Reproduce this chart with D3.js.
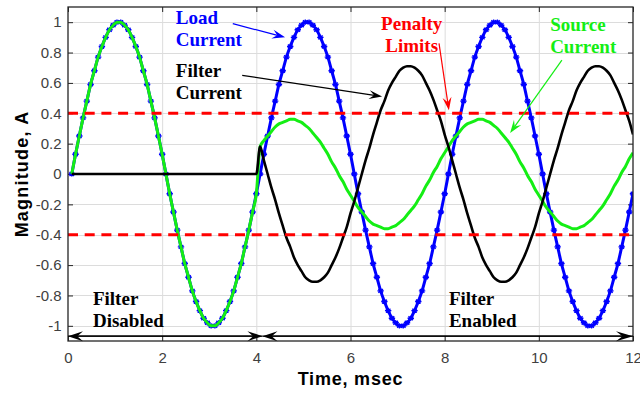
<!DOCTYPE html>
<html>
<head>
<meta charset="utf-8">
<script src="https://cdn.jsdelivr.net/npm/d3@7"></script>
<style>
  html, body { margin: 0; padding: 0; background: #fff; }
  svg { display: block; }
</style>
</head>
<body>
<script>
// Sampled waveforms, one sample every 0.08 ms from 0.08 ms to 12.00 ms.
const sampleStepMs = 0.08;

const loadCurrent = [
  0, 0.13, 0.25, 0.37, 0.48, 0.59, 0.68, 0.77, 0.84, 0.90, 0.95, 0.98, 1.00, 1.00, 0.98, 0.95, 0.90, 0.84, 0.77, 0.68, 0.59, 0.48, 0.37, 0.25, 0.13,
  0, -0.13, -0.25, -0.37, -0.48, -0.59, -0.68, -0.77, -0.84, -0.90, -0.95, -0.98, -1.00, -1.00, -0.98, -0.95, -0.90, -0.84, -0.77, -0.68, -0.59, -0.48, -0.37, -0.25, -0.13,
  0, 0.13, 0.25, 0.37, 0.48, 0.59, 0.68, 0.77, 0.84, 0.90, 0.95, 0.98, 1.00, 1.00, 0.98, 0.95, 0.90, 0.84, 0.77, 0.68, 0.59, 0.48, 0.37, 0.25, 0.13,
  0, -0.13, -0.25, -0.37, -0.48, -0.59, -0.68, -0.77, -0.84, -0.90, -0.95, -0.98, -1.00, -1.00, -0.98, -0.95, -0.90, -0.84, -0.77, -0.68, -0.59, -0.48, -0.37, -0.25, -0.13,
  0, 0.13, 0.25, 0.37, 0.48, 0.59, 0.68, 0.77, 0.84, 0.90, 0.95, 0.98, 1.00, 1.00, 0.98, 0.95, 0.90, 0.84, 0.77, 0.68, 0.59, 0.48, 0.37, 0.25, 0.13,
  0, -0.13, -0.25, -0.37, -0.48, -0.59, -0.68, -0.77, -0.84, -0.90, -0.95, -0.98, -1.00, -1.00, -0.98, -0.95, -0.90, -0.84, -0.77, -0.68, -0.59, -0.48, -0.37, -0.25, -0.13
];

const sourceCurrent = [
  0, 0.13, 0.25, 0.37, 0.48, 0.59, 0.68, 0.77, 0.84, 0.90, 0.95, 0.98, 1.00, 1.00, 0.98, 0.95, 0.90, 0.84, 0.77, 0.68, 0.59, 0.48, 0.37, 0.25, 0.13,
  0, -0.13, -0.25, -0.37, -0.48, -0.59, -0.68, -0.77, -0.84, -0.90, -0.95, -0.98, -1.00, -1.00, -0.98, -0.95, -0.90, -0.84, -0.77, -0.68, -0.59, -0.48, -0.37, -0.25, -0.13,
  0.18, 0.22, 0.25, 0.28, 0.31, 0.33, 0.34, 0.35, 0.36, 0.36, 0.35, 0.34, 0.32, 0.30, 0.27, 0.24, 0.21, 0.17, 0.13, 0.08, 0.04, -0.01, -0.05, -0.10, -0.14,
  -0.18, -0.22, -0.25, -0.28, -0.31, -0.33, -0.34, -0.35, -0.36, -0.36, -0.35, -0.34, -0.32, -0.30, -0.27, -0.24, -0.21, -0.17, -0.13, -0.08, -0.04, 0.01, 0.05, 0.10, 0.14,
  0.18, 0.22, 0.25, 0.28, 0.31, 0.33, 0.34, 0.35, 0.36, 0.36, 0.35, 0.34, 0.32, 0.30, 0.27, 0.24, 0.21, 0.17, 0.13, 0.08, 0.04, -0.01, -0.05, -0.10, -0.14,
  -0.18, -0.22, -0.25, -0.28, -0.31, -0.33, -0.34, -0.35, -0.36, -0.36, -0.35, -0.34, -0.32, -0.30, -0.27, -0.24, -0.21, -0.17, -0.13, -0.08, -0.04, 0.01, 0.05, 0.10, 0.14
];

const filterCurrent = [
  0, 0, 0, 0, 0, 0, 0, 0, 0, 0, 0, 0, 0, 0, 0, 0, 0, 0, 0, 0, 0, 0, 0, 0, 0,
  0, 0, 0, 0, 0, 0, 0, 0, 0, 0, 0, 0, 0, 0, 0, 0, 0, 0, 0, 0, 0, 0, 0, 0, 0,
  0.18, 0.09, 0.00, -0.09, -0.17, -0.26, -0.34, -0.42, -0.48, -0.55, -0.60, -0.64, -0.68, -0.70, -0.71, -0.71, -0.70, -0.68, -0.65, -0.60, -0.55, -0.49, -0.42, -0.35, -0.26,
  -0.18, -0.09, 0.00, 0.09, 0.17, 0.26, 0.34, 0.42, 0.48, 0.55, 0.60, 0.64, 0.68, 0.70, 0.71, 0.71, 0.70, 0.68, 0.65, 0.60, 0.55, 0.49, 0.42, 0.35, 0.26,
  0.18, 0.09, 0.00, -0.09, -0.17, -0.26, -0.34, -0.42, -0.48, -0.55, -0.60, -0.64, -0.68, -0.70, -0.71, -0.71, -0.70, -0.68, -0.65, -0.60, -0.55, -0.49, -0.42, -0.35, -0.26,
  -0.18, -0.09, 0.00, 0.09, 0.17, 0.26, 0.34, 0.42, 0.48, 0.55, 0.60, 0.64, 0.68, 0.70, 0.71, 0.71, 0.70, 0.68, 0.65, 0.60, 0.55, 0.49, 0.42, 0.35, 0.26
];

const penaltyLimits = [0.4, -0.4];
const switchTimeMs = 4.13;
const timeRange = [0, 12];

const xTicks = [0, 2, 4, 6, 8, 10, 12];
const xTickLabels = ["0", "2", "4", "6", "8", "10", "12"];
const yTicks = [-1, -0.8, -0.6, -0.4, -0.2, 0, 0.2, 0.4, 0.6, 0.8, 1];
const yTickLabels = ["-1", "-0.8", "-0.6", "-0.4", "-0.2", "0", "0.2", "0.4", "0.6", "0.8", "1"];

const time = loadCurrent.map((_, i) => +((i + 1) * sampleStepMs).toFixed(2));

// ---- layout ----
const W = 640, H = 394;
const x = d3.scaleLinear().domain(timeRange).range([68, 633]);
const y = d3.scaleLinear().domain([-1.1, 1.1]).range([341, 7]);
const [x0, x1] = x.range();
const [yB, yT] = y.range();

const svg = d3.select("body").append("svg").attr("width", W).attr("height", H);

svg.append("defs").append("clipPath").attr("id", "plotClip")
  .append("rect").attr("x", x0).attr("y", yT).attr("width", x1 - x0).attr("height", yB - yT);

// grid
const grid = svg.append("g").attr("stroke", "#dcdcdc").attr("stroke-width", 1);
grid.selectAll("line.gx").data(xTicks.slice(1, -1)).join("line")
  .attr("x1", d => x(d) + 0.5).attr("x2", d => x(d) + 0.5)
  .attr("y1", yT).attr("y2", yB);
grid.selectAll("line.gy").data(yTicks).join("line")
  .attr("x1", x0).attr("x2", x1)
  .attr("y1", d => Math.round(y(d)) + 0.5).attr("y2", d => Math.round(y(d)) + 0.5);

// axes (ticks inside, labels outside)
const tickFont = "'Liberation Sans', Arial, sans-serif";
const axisColor = "#262626";

const gLeft = svg.append("g").attr("transform", `translate(${x0},0)`)
  .call(d3.axisLeft(y).tickValues(yTicks).tickFormat((d, i) => yTickLabels[i])
    .tickSizeInner(-5).tickSizeOuter(0).tickPadding(6.5));
const gBottom = svg.append("g").attr("transform", `translate(0,${yB})`)
  .call(d3.axisBottom(x).tickValues(xTicks).tickFormat((d, i) => xTickLabels[i])
    .tickSizeInner(-5).tickSizeOuter(0).tickPadding(11));
const gRight = svg.append("g").attr("transform", `translate(${x1},0)`)
  .call(d3.axisRight(y).tickValues(yTicks).tickFormat("").tickSizeInner(-5).tickSizeOuter(0));
const gTop = svg.append("g").attr("transform", `translate(0,${yT})`)
  .call(d3.axisTop(x).tickValues(xTicks).tickFormat("").tickSizeInner(-5).tickSizeOuter(0));

[gLeft, gBottom, gRight, gTop].forEach(g => {
  g.select(".domain").remove();
  g.selectAll(".tick line").attr("stroke", axisColor).attr("stroke-width", 1);
  g.selectAll(".tick text").attr("fill", "#404040")
    .style("font-family", tickFont).style("font-size", "15px");
});

// waveforms
const plot = svg.append("g").attr("clip-path", "url(#plotClip)");
const line = d3.line().x((d, i) => x(time[i])).y(d => y(d)).curve(d3.curveMonotoneX);

const blue = "#0000ff", green = "#14ee14", red = "#ff0000";

plot.append("path").datum(loadCurrent).attr("d", line)
  .attr("fill", "none").attr("stroke", blue).attr("stroke-width", 3).attr("stroke-linejoin", "round");

const markerPath = "M-3.2,0H3.2M0,-2.6V2.6M-2.3,-1.9L2.3,1.9M-2.3,1.9L2.3,-1.9";
plot.append("g").selectAll("path").data(loadCurrent).join("path")
  .attr("transform", (d, i) => `translate(${x(time[i])},${y(d)})`)
  .attr("d", markerPath).attr("fill", "none").attr("stroke", blue).attr("stroke-width", 1.4);

plot.append("path").datum(sourceCurrent).attr("d", line)
  .attr("fill", "none").attr("stroke", green).attr("stroke-width", 3).attr("stroke-linejoin", "round");

plot.append("path").datum(filterCurrent).attr("d", line)
  .attr("fill", "none").attr("stroke", "#000").attr("stroke-width", 2.6).attr("stroke-linejoin", "round");

// penalty limits
plot.selectAll("line.limit").data(penaltyLimits).join("line")
  .attr("x1", x0).attr("x2", x1)
  .attr("y1", d => y(d)).attr("y2", d => y(d))
  .attr("stroke", red).attr("stroke-width", 3).attr("stroke-dasharray", "10,6.7");

// axes box
svg.append("rect").attr("x", x0).attr("y", yT).attr("width", x1 - x0).attr("height", yB - yT)
  .attr("fill", "none").attr("stroke", axisColor).attr("stroke-width", 1.3);

// arrowheads with notched back
function arrowHead(g, tx, ty, angleRad, len, wid, color) {
  const p = `M0,0L${-len},${-wid / 2}L${-len * 0.62},0L${-len},${wid / 2}Z`;
  g.append("path").attr("d", p).attr("fill", color)
    .attr("transform", `translate(${tx},${ty}) rotate(${angleRad * 180 / Math.PI})`);
}
function arrow(g, from, to, color, width, len, wid) {
  const ax = x(from[0]), ay = y(from[1]), bx = x(to[0]), by = y(to[1]);
  const ang = Math.atan2(by - ay, bx - ax);
  g.append("line").attr("x1", ax).attr("y1", ay)
    .attr("x2", bx - Math.cos(ang) * len * 0.6).attr("y2", by - Math.sin(ang) * len * 0.6)
    .attr("stroke", color).attr("stroke-width", width);
  arrowHead(g, bx, by, ang, len, wid, color);
}

const notes = svg.append("g");

// filter state spans along the bottom
const spanLevel = -1.068;
arrow(notes, [timeRange[0], spanLevel], [switchTimeMs, spanLevel], "#000", 1.4, 15, 10);
arrow(notes, [switchTimeMs, spanLevel], [timeRange[0], spanLevel], "#000", 1.4, 15, 10);
arrow(notes, [switchTimeMs, spanLevel], [timeRange[1], spanLevel], "#000", 1.4, 17, 10);
arrow(notes, [timeRange[1], spanLevel], [switchTimeMs, spanLevel], "#000", 1.4, 15, 10);

// callout arrows
arrow(notes, [3.50, 0.99], [4.61, 0.90], blue, 1.2, 13, 9);
arrow(notes, [3.70, 0.65], [6.67, 0.51], "#000", 1.2, 13, 9);
arrow(notes, [7.88, 0.86], [8.09, 0.42], red, 1.2, 13, 9);
arrow(notes, [10.49, 0.75], [9.39, 0.27], green, 1.2, 13, 9);

// callout text
const serif = "'Liberation Serif', 'Times New Roman', serif";
function callout(lines, t, v, color, anchor) {
  const tx = notes.append("text")
    .attr("x", x(t)).attr("y", y(v))
    .attr("fill", color).attr("text-anchor", anchor)
    .style("font-family", serif).style("font-weight", "bold").style("font-size", "19px");
  lines.forEach((s, i) => {
    tx.append("tspan").attr("x", x(t)).attr("dy", i === 0 ? 0 : 22).text(s);
  });
}
callout(["Load", "Current"], 2.29, 0.985, blue, "start");
callout(["Filter", "Current"], 2.29, 0.639, "#000", "start");
callout(["Penalty", "Limits"], 7.30, 0.948, red, "middle");
callout(["Source", "Current"], 10.24, 0.945, green, "start");
callout(["Filter", "Disabled"], 0.53, -0.863, "#000", "start");
callout(["Filter", "Enabled"], 8.09, -0.860, "#000", "start");

// axis titles
const sans = "'Liberation Sans', Arial, sans-serif";
svg.append("text").attr("x", (x0 + x1) / 2).attr("y", 385)
  .attr("text-anchor", "middle").attr("fill", "#000")
  .style("font-family", sans).style("font-weight", "bold").style("font-size", "18px")
  .style("letter-spacing", "0.8px")
  .text("Time, msec");
svg.append("text").attr("transform", `translate(28,${(yT + yB) / 2}) rotate(-90)`)
  .attr("text-anchor", "middle").attr("fill", "#000")
  .style("font-family", sans).style("font-weight", "bold").style("font-size", "18px")
  .style("letter-spacing", "1.2px")
  .text("Magnitude, A");
</script>
</body>
</html>
